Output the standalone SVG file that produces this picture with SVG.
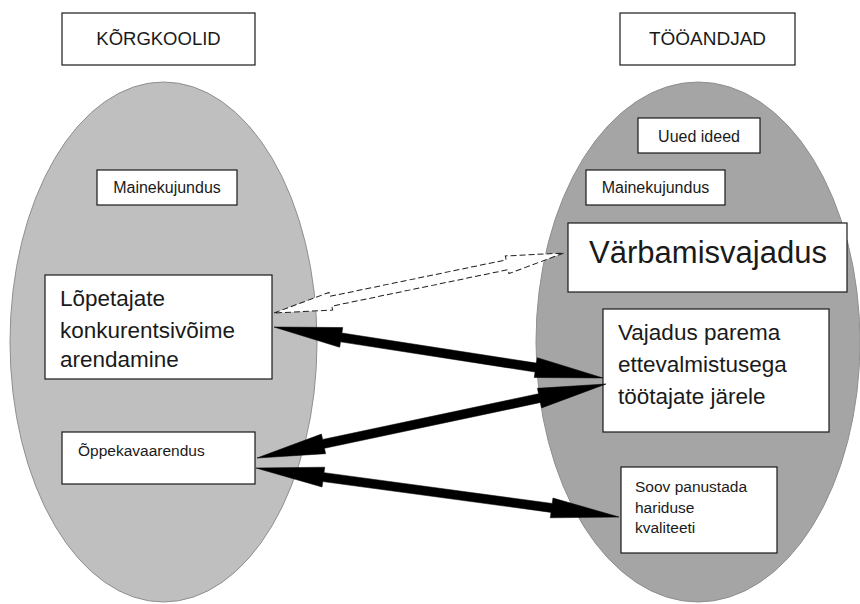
<svg xmlns="http://www.w3.org/2000/svg" width="860" height="604" viewBox="0 0 860 604">
<style>
  text { font-family: "Liberation Sans", Arial, sans-serif; fill: #1a1a1a; }
  .box { fill: #ffffff; stroke: #1a1a1a; stroke-width: 1.2; }
  .ell { stroke: #8f8f8f; stroke-width: 1; }
  .arr { fill: #000000; stroke: #000000; stroke-width: 0.5; stroke-linejoin: miter; }
  .dash { fill: #ffffff; stroke: #222222; stroke-width: 1; stroke-dasharray: 6 3; }
  .c { text-anchor: middle; }
</style>
<rect width="860" height="604" fill="#ffffff"/>

<g id="ellipse-korgkoolid">
  <ellipse class="ell" cx="163.5" cy="342" rx="153.5" ry="260" fill="#bfbfbf"/>
</g>
<g id="ellipse-tooandjad">
  <ellipse class="ell" cx="698" cy="342" rx="162" ry="260" fill="#a5a5a5"/>
</g>

<g id="header-korgkoolid">
  <rect class="box" x="62" y="13" width="193" height="52"/>
  <text class="c" x="158.5" y="45" font-size="18.5">KÕRGKOOLID</text>
</g>
<g id="header-tooandjad">
  <rect class="box" x="620" y="13" width="175" height="52"/>
  <text class="c" x="707.5" y="45" font-size="19">TÖÖANDJAD</text>
</g>

<g id="node-mainekujundus-left">
  <rect class="box" x="97" y="170" width="140" height="35"/>
  <text class="c" x="167" y="193" font-size="16">Mainekujundus</text>
</g>
<g id="node-lopetajate">
  <rect class="box" x="45" y="275" width="227" height="104"/>
  <text x="60" y="306" font-size="22.5">Lõpetajate</text>
  <text x="60" y="337.5" font-size="22.5">konkurentsivõime</text>
  <text x="60" y="367" font-size="22.5">arendamine</text>
</g>
<g id="node-oppekavaarendus">
  <rect class="box" x="62" y="432" width="193" height="52"/>
  <text x="78" y="456" font-size="15.5">Õppekavaarendus</text>
</g>

<g id="node-uued-ideed">
  <rect class="box" x="638" y="118" width="122" height="35"/>
  <text class="c" x="699" y="142" font-size="16">Uued ideed</text>
</g>
<g id="node-mainekujundus-right">
  <rect class="box" x="586" y="170" width="139" height="35"/>
  <text class="c" x="655.5" y="193" font-size="16">Mainekujundus</text>
</g>
<g id="node-varbamisvajadus">
  <rect class="box" x="568" y="223" width="279" height="69"/>
  <text class="c" x="708" y="263" font-size="31">Värbamisvajadus</text>
</g>
<g id="node-vajadus">
  <rect class="box" x="603" y="309" width="226" height="123"/>
  <text x="618" y="340" font-size="22.5">Vajadus parema</text>
  <text x="618" y="372" font-size="22.5">ettevalmistusega</text>
  <text x="618" y="404" font-size="22.5">töötajate järele</text>
</g>
<g id="node-soov">
  <rect class="box" x="621" y="467" width="156" height="86"/>
  <text x="635" y="492" font-size="15.5">Soov panustada</text>
  <text x="635" y="513" font-size="15.5">hariduse</text>
  <text x="635" y="533" font-size="15.5">kvaliteeti</text>
</g>

<g id="connectors">
  <!-- dashed hollow double arrow: Lõpetajate <-> Värbamisvajadus -->
  <polygon class="dash" transform="translate(274,313) rotate(-11.69)"
    points="0,0 58,-9 58,-5 238.1,-5 238.1,-9 296.1,0 238.1,9 238.1,5 58,5 58,9"/>
  <!-- Lõpetajate <-> Vajadus -->
  <polygon class="arr" transform="translate(274,327) rotate(8.81)"
    points="0,0 68,-10 68,-4.5 264.9,-4.5 264.9,-10 332.9,0 264.9,10 264.9,4.5 68,4.5 68,10"/>
  <!-- Õppekavaarendus <-> Vajadus -->
  <polygon class="arr" transform="translate(257,458) rotate(-11.97)"
    points="0,0 68,-10 68,-4.5 288.8,-4.5 288.8,-10 356.8,0 288.8,10 288.8,4.5 68,4.5 68,10"/>
  <!-- Õppekavaarendus <-> Soov -->
  <polygon class="arr" transform="translate(256,468) rotate(7.69)"
    points="0,0 68,-10 68,-4.5 298.3,-4.5 298.3,-10 366.3,0 298.3,10 298.3,4.5 68,4.5 68,10"/>
</g>
</svg>
